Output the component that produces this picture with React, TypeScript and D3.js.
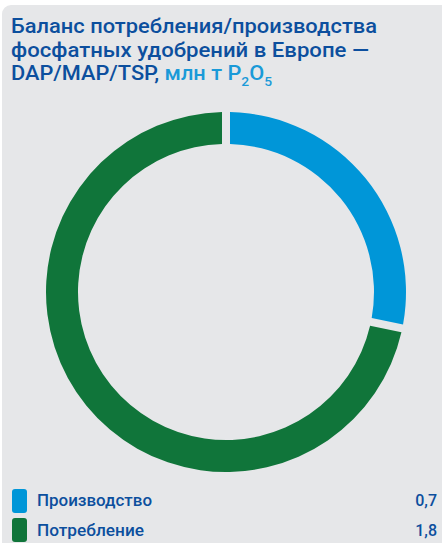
import React from "react";
import * as d3 from "d3";

const categories = ["Производство", "Потребление"];
const values = [0.7, 1.8];
const valueLabels = ["0,7", "1,8"];
const colors = ["#0096d8", "#10753a"];

const W = 442;
const H = 543;

export default function App() {
  const cx = 226;
  const cy = 292;
  const outer = 180;
  const inner = 148;
  const padR = Math.sqrt(outer * outer + inner * inner);
  const pie = d3
    .pie<number>()
    .sort(null)
    .value((d) => d)
    .padAngle(8 / padR);
  const arcs = pie(values);
  const arc = d3
    .arc<d3.PieArcDatum<number>>()
    .innerRadius(inner)
    .outerRadius(outer)
    .padRadius(padR);
  const titleColor = "#0c4f9e";
  const accent = "#1a9ad8";
  const font = "Roboto, 'Noto Sans', sans-serif";
  const legendLens = [115, 107];
  return (
    <svg
      width={W}
      height={H}
      style={{ position: "absolute", left: 0, top: 0, display: "block" }}
    >
      <rect x={0} y={0} width={W} height={H} fill="#ffffff" />
      <rect x={2} y={5} width={W + 20} height={H + 20} rx={9} fill="#e6e7e9" />
      <g fontFamily={font} fill={titleColor} fontSize={20.5} fontWeight={500}>
        <text x={11} y={33} textLength={366} lengthAdjust="spacingAndGlyphs">
          Баланс потребления/производства
        </text>
        <text x={11} y={56.5} textLength={358} lengthAdjust="spacingAndGlyphs">
          фосфатных удобрений в Европе —
        </text>
        <text x={11} y={80} textLength={261} lengthAdjust="spacingAndGlyphs">
          <tspan>DAP/MAP/TSP, </tspan>
          <tspan fill={accent}>млн т P</tspan>
          <tspan fill={accent} fontSize={13} dy={6}>2</tspan>
          <tspan fill={accent} dy={-6}>O</tspan>
          <tspan fill={accent} fontSize={13} dy={6}>5</tspan>
        </text>
      </g>
      <g transform={`translate(${cx},${cy})`}>
        {arcs.map((a, i) => (
          <path key={i} d={arc(a) || ""} fill={colors[i]} />
        ))}
      </g>
      <g fontFamily={font} fontSize={16} fill={titleColor} fontWeight={500}>
        {categories.map((c, i) => (
          <g key={c}>
            <rect x={12} y={489 + i * 29} width={15} height={24} rx={3} fill={colors[i]} />
            <text x={37} y={506 + i * 30} textLength={legendLens[i]} lengthAdjust="spacingAndGlyphs">{c}</text>
            <text x={437} y={506 + i * 30} textAnchor="end">{valueLabels[i]}</text>
          </g>
        ))}
      </g>
    </svg>
  );
}
